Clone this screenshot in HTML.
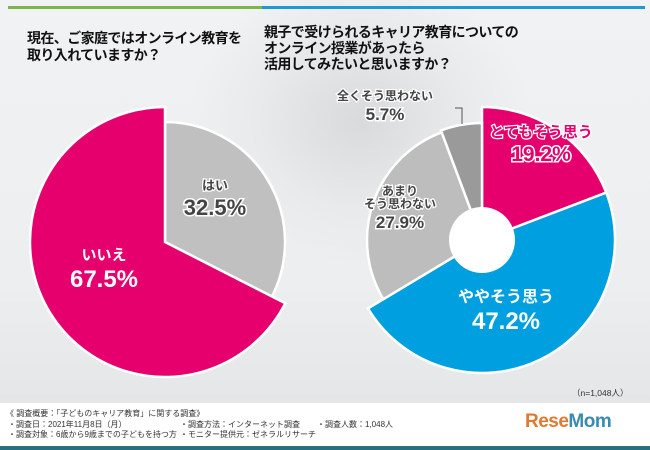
<!DOCTYPE html>
<html><head><meta charset="utf-8"><style>
body{margin:0;width:650px;height:450px;overflow:hidden;font-family:"Liberation Sans","Noto Sans CJK JP",sans-serif;}
#bg{position:absolute;left:0;top:0;width:650px;height:403px;background:radial-gradient(ellipse 170px 150px at 360px 120px,#d8dadb 0%,#e8eaeb 60%,rgba(240,242,243,0) 100%),linear-gradient(180deg,#f1f2f3,#eceef0 70%,#e4e6e8);}
.t{position:absolute;font-weight:bold;color:#111;font-size:14px;line-height:17px;letter-spacing:-0.6px;white-space:nowrap}
#foot{position:absolute;left:0;top:403px;width:650px;height:43px;background:#fff;border-bottom:4px solid #2a6f80;font-size:8px;color:#333;}
#foot div{position:absolute;white-space:nowrap;line-height:10px}
</style></head><body>
<div id="bg"></div>
<div style="position:absolute;left:8px;top:6px;width:254px;height:3px;background:#7ab648"></div>
<div style="position:absolute;left:262px;top:6px;width:383px;height:3px;background:#1c9ad6"></div>
<div class="t" style="left:27px;top:30px">現在、ご家庭ではオンライン教育を<br>取り入れていますか？</div>
<div class="t" style="left:264px;top:24px;line-height:16px">親子で受けられるキャリア教育についての<br>オンライン授業があったら<br>活用してみたいと思いますか？</div>
<svg id="svg" width="650" height="400" style="position:absolute;left:0;top:0"></svg>
<div style="position:absolute;left:572px;top:387px;font-size:8.5px;color:#333">（n=1,048人）</div>
<div id="foot">
<div style="left:6px;top:6px">《 調査概要：「子どものキャリア教育」に関する調査》</div>
<div style="left:8px;top:17px">・調査日：2021年11月8日（月）</div>
<div style="left:8px;top:27px">・調査対象：6歳から9歳までの子どもを持つ方</div>
<div style="left:180px;top:17px">・調査方法：インターネット調査</div>
<div style="left:180px;top:27px">・モニター提供元：ゼネラルリサーチ</div>
<div style="left:317px;top:17px">・調査人数：1,048人</div>
<div style="left:525px;top:8px;font-size:19px;line-height:22px;font-weight:bold;color:#8a7a6a;letter-spacing:-0.5px"><span style="color:#e07a30">Rese</span><span style="color:#3a8ab0">Mom</span></div>
</div>
<script>
const leftCats=["はい","いいえ"];
const leftVals=[32.5,67.5];
const leftColors=["#c0c0c0","#e6006e"];
const rightCats=["とてもそう思う","ややそう思う","あまりそう思わない","全くそう思わない"];
const rightVals=[19.2,47.2,27.9,5.7];
const rightColors=["#e6006e","#00a0e0","#bdbdbd","#9a9a9a"];
const NS="http://www.w3.org/2000/svg";
const svg=document.getElementById('svg');
function pt(cx,cy,r,a){return [cx+r*Math.sin(a),cy-r*Math.cos(a)];}
function pie(cx,cy,vals,colors,radii,hole,name){
  const tot=vals.reduce((a,b)=>a+b,0);let a0=0;
  vals.forEach((v,i)=>{
    const a1=a0+v/tot*2*Math.PI;const r=radii[i];
    const p0=pt(cx,cy,r,a0),p1=pt(cx,cy,r,a1);const big=(a1-a0)>Math.PI?1:0;
    const p=document.createElementNS(NS,'path');
    p.setAttribute('d',`M${cx},${cy}L${p0[0]},${p0[1]}A${r},${r} 0 ${big} 1 ${p1[0]},${p1[1]}Z`);
    p.setAttribute('fill',colors[i]);p.setAttribute('stroke','#fff');p.setAttribute('stroke-width','2.5');
    
    
    svg.appendChild(p);a0=a1;});
  if(hole){const c=document.createElementNS(NS,'circle');c.setAttribute('cx',cx);c.setAttribute('cy',cy);c.setAttribute('r',hole);c.setAttribute('fill','#fff');
    
    
    svg.appendChild(c);}
}
pie(165,242,leftVals,leftColors,[120,135],0,'left-pie');
pie(482,240,rightVals,rightColors,[133,133,115,117],33,'right-donut');
function txt(g,x,y,s,size,fill,stroke,sw){
  const t=document.createElementNS(NS,'text');t.setAttribute('x',x);t.setAttribute('y',y);t.setAttribute('text-anchor','middle');
  t.setAttribute('font-size',size);t.setAttribute('font-weight','bold');t.setAttribute('fill',fill);t.setAttribute('stroke',stroke);t.setAttribute('stroke-width',sw);t.setAttribute('paint-order','stroke');
  t.setAttribute('font-family','"Liberation Sans","Noto Sans CJK JP",sans-serif');t.textContent=s;g.appendChild(t);}
function lbl(x,y,cat,val,fill,stroke,name,size){
  const g=document.createElementNS(NS,'g');
  
  
  const lines=cat.split('\n');let yy=y;
  lines.forEach(l=>{txt(g,x,yy,l,size[0],fill,stroke,2.5);yy+=size[0]+1;});
  txt(g,x,yy+size[1]-size[0]+2,val.toFixed(1)+'%',size[1],fill,stroke,3);
  svg.appendChild(g);}
lbl(215,190,leftCats[0],leftVals[0],'#444','#fff','label-hai',[13,22]);
lbl(104,260,leftCats[1],leftVals[1],'#fff','#e6006e','label-iie',[15,24]);
lbl(541,137,rightCats[0],rightVals[0],'#e6006e','#fff','label-totemo',[15,21]);
lbl(506,302,rightCats[1],rightVals[1],'#fff','#00a0e0','label-yaya',[16,24]);
lbl(400,195,"あまり\nそう思わない",rightVals[2],'#444','#fff','label-amari',[12,17]);
lbl(385,100,rightCats[3],rightVals[3],'#444','#fff','label-mattaku',[12,17]);
const ln=document.createElementNS(NS,'path');ln.setAttribute('d','M455,108L462,108L462,124');ln.setAttribute('stroke','#555');ln.setAttribute('fill','none');


svg.appendChild(ln);
</script>
</body></html>
